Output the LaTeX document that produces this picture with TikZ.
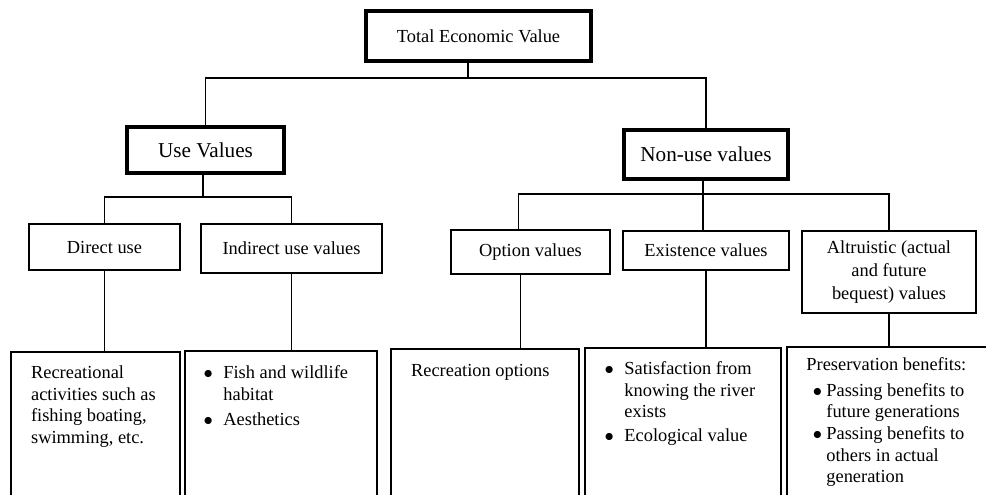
\documentclass[tikz,border=0pt]{standalone}
\usepackage{fontspec}
\setmainfont{Liberation Serif}
\newcommand\dotitem[1][5.3pt]{\llap{$\bullet$\hspace{#1}}}
\begin{document}
\begin{tikzpicture}[x=0.5pt,y=-0.5pt,
  conn/.style={line width=0.7pt},
  topbox/.style={draw,line width=2pt,inner sep=0pt,font=\fontsize{9.2}{10.85}\selectfont},
  headbox/.style={draw,line width=2pt,inner sep=0pt,font=\fontsize{10.6}{12.7}\selectfont},
  catbox/.style={draw,line width=0.7pt,inner sep=0pt,align=center,font=\fontsize{9.2}{11.7}\selectfont},
  leafbox/.style={draw,line width=0.9pt,inner sep=0pt,anchor=north west,minimum height=80pt},
  leaftext/.style={inner sep=0pt,anchor=north west,align=left,font=\fontsize{9.2}{10.85}\selectfont}]
  \useasboundingbox (0,0) rectangle (986,494);
  \clip (0,0) rectangle (986,494);
  % top box
  \node[topbox,minimum width=112.5pt,minimum height=25pt] (tev) at (478.5,36) {Total Economic Value};
  % use / non-use
  \node[headbox,minimum width=78.5pt,minimum height=23pt] (use) at (205.5,150) {Use Values};
  \node[headbox,minimum width=82pt,minimum height=24.5pt] (nonuse) at (706,154.5) {Non-use values};
  % value types
  \node[catbox,minimum width=75.5pt,minimum height=23pt] (direct) at (104.5,247) {Direct use};
  \node[catbox,minimum width=90.5pt,minimum height=24.5pt] (indirect) at (291.5,248.5) {Indirect use values};
  \node[catbox,minimum width=79.5pt,minimum height=22pt] (option) at (530.5,252) {Option values};
  \node[catbox,minimum width=83pt,minimum height=19.5pt] (exist) at (706,250.5) {Existence values};
  \node[catbox,minimum width=87pt,minimum height=41pt] (altru) at (889,272) {Altruistic (actual\\and future\\bequest) values};
  % examples, open at the bottom
  \node[leafbox,minimum width=84.5pt] (recbox) at (10,351) {};
  \node[leafbox,minimum width=96pt] (fishbox) at (184,350) {};
  \node[leafbox,minimum width=94pt] (roptbox) at (390,348) {};
  \node[leafbox,minimum width=98pt] (satbox) at (584,347) {};
  \node[leafbox,minimum width=103pt] (presbox) at (786,346) {};
  \node[leaftext] (rectext) at (30.7,362.8) {\strut Recreational\\activities such as\\fishing boating,\\swimming, etc.};
  \node[leaftext] (fishtext) at (223,362.8) {\dotitem\strut Fish and wildlife\\habitat\\[2pt]\dotitem Aesthetics};
  \node[leaftext] (ropttext) at (410.7,360.8) {\strut Recreation options};
  \node[leaftext] (sattext) at (624,358.8) {\dotitem\strut Satisfaction from\\knowing the river\\exists\\[1pt]\dotitem Ecological value};
  \node[leaftext] (prestext) at (826,354.8) {\hspace*{-10pt}\strut Preservation benefits:\\[2pt]\dotitem[2.2pt]Passing benefits to\\future generations\\\dotitem[2.2pt]Passing benefits to\\others in actual\\generation};
  % tree lines
  \coordinate (tevbus) at (468,78);
  \draw[conn] (tev.south -| tevbus) -- (tevbus);
  \draw[conn] (use.north) |- (nonuse.north |- tevbus) -- (nonuse.north);
  \coordinate (usebus) at (203,197);
  \draw[conn] (use.south -| usebus) -- (usebus);
  \draw[conn] (direct.north) |- (indirect.north |- usebus) -- (indirect.north);
  \coordinate (nonbus) at (703,194);
  \draw[conn] (nonuse.south -| nonbus) -- (nonbus);
  \draw[conn] ([xshift=-6pt]option.north) |- (altru.north |- nonbus) -- (altru.north);
  \draw[conn] (nonbus) -- (exist.north -| nonbus);
  % down to the examples
  \draw[conn] (direct.south) -- (direct.south |- recbox.north);
  \draw[conn] (indirect.south) -- (indirect.south |- fishbox.north);
  \draw[conn] ([xshift=-5pt]option.south) -- ([xshift=-5pt]option.south |- roptbox.north);
  \draw[conn] (exist.south) -- (exist.south |- satbox.north);
  \draw[conn] (altru.south) -- (altru.south |- presbox.north);
\end{tikzpicture}
\end{document}
